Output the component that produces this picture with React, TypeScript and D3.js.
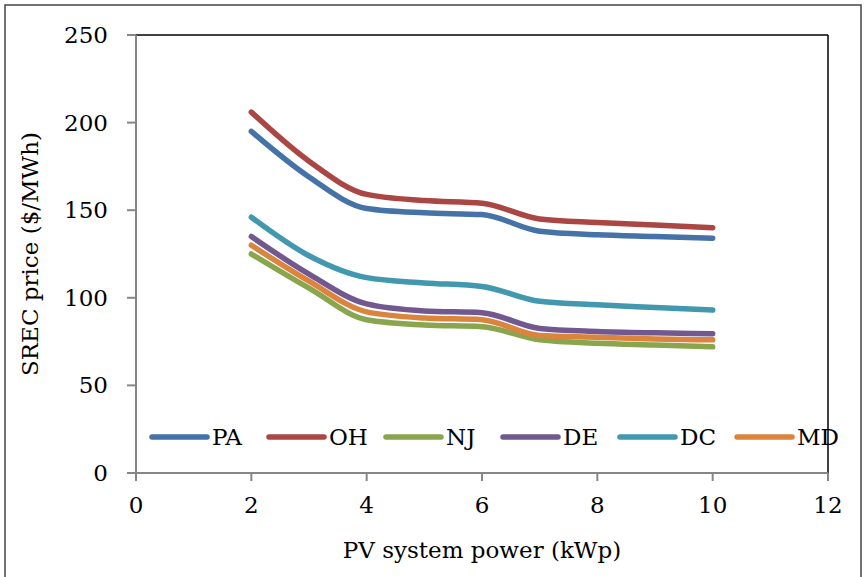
import { useEffect, useRef } from 'react';
import * as d3 from 'd3';

const xValues = [2, 3, 4, 5, 6, 7, 8, 9, 10];

const seriesNames = ['PA', 'OH', 'NJ', 'DE', 'DC', 'MD'];
const seriesColors = ['#4572A7', '#AA4643', '#89A54E', '#71588F', '#4198AF', '#DB843D'];

const paValues = [195, 169, 151, 148.5, 147.5, 138, 136, 135, 134];
const ohValues = [206, 178, 159, 155.5, 154, 145, 143, 141.5, 140];
const njValues = [125, 105.5, 87.5, 84.5, 83.5, 76, 74, 73, 72];
const deValues = [135, 113.5, 96.5, 92.5, 91.5, 82.5, 80.8, 80, 79.5];
const dcValues = [146, 124, 111.5, 108.5, 106.5, 98, 96, 94.5, 93];
const mdValues = [130, 109.5, 92, 88.5, 87.5, 78.5, 77.5, 76.5, 76];

const xTicks = [0, 2, 4, 6, 8, 10, 12];
const yTicks = [0, 50, 100, 150, 200, 250];

const FONT = '"DejaVu Serif", serif';

export default function App() {
  const ref = useRef<SVGSVGElement | null>(null);

  useEffect(() => {
    if (!ref.current) return;
    const svg = d3.select(ref.current);
    svg.selectAll('*').remove();

    const left = 136;
    const right = 828;
    const top = 35;
    const bottom = 473;

    const x = d3.scaleLinear().domain([0, 12]).range([left, right]);
    const y = d3.scaleLinear().domain([0, 250]).range([bottom, top]);

    // outer chart frame
    svg.append('rect')
      .attr('x', 5).attr('y', 5)
      .attr('width', 856).attr('height', 600)
      .attr('fill', 'white')
      .attr('stroke', '#444')
      .attr('stroke-width', 1.5);

    // plot area border (top / right are black)
    svg.append('line')
      .attr('x1', left).attr('x2', right).attr('y1', top).attr('y2', top)
      .attr('stroke', '#000').attr('stroke-width', 1.5);
    svg.append('line')
      .attr('x1', right).attr('x2', right).attr('y1', top).attr('y2', bottom)
      .attr('stroke', '#000').attr('stroke-width', 1.5);

    // axes
    const axisColor = '#868686';
    svg.append('line')
      .attr('x1', left).attr('x2', left).attr('y1', top).attr('y2', bottom + 8)
      .attr('stroke', axisColor).attr('stroke-width', 2);
    svg.append('line')
      .attr('x1', left - 9).attr('x2', right).attr('y1', bottom).attr('y2', bottom)
      .attr('stroke', axisColor).attr('stroke-width', 2);

    yTicks.forEach((t) => {
      svg.append('line')
        .attr('x1', left - 9).attr('x2', left)
        .attr('y1', y(t)).attr('y2', y(t))
        .attr('stroke', axisColor).attr('stroke-width', 2);
      svg.append('text')
        .attr('x', left - 28).attr('y', y(t))
        .attr('text-anchor', 'end')
        .attr('dominant-baseline', 'central')
        .attr('font-family', FONT).attr('font-size', 23)
        .text(t);
    });

    xTicks.forEach((t) => {
      svg.append('line')
        .attr('x1', x(t)).attr('x2', x(t))
        .attr('y1', bottom).attr('y2', bottom + 8)
        .attr('stroke', axisColor).attr('stroke-width', 2);
      svg.append('text')
        .attr('x', x(t)).attr('y', bottom + 40)
        .attr('text-anchor', 'middle')
        .attr('font-family', FONT).attr('font-size', 23)
        .text(t);
    });

    svg.append('text')
      .attr('x', (left + right) / 2).attr('y', 558)
      .attr('text-anchor', 'middle')
      .attr('font-family', FONT).attr('font-size', 23)
      .text('PV system power (kWp)');

    svg.append('text')
      .attr('transform', `translate(38,${(top + bottom) / 2}) rotate(-90)`)
      .attr('text-anchor', 'middle')
      .attr('font-family', FONT).attr('font-size', 23)
      .text('SREC price ($/MWh)');

    const allValues = [paValues, ohValues, njValues, deValues, dcValues, mdValues];
    const line = d3.line<number>()
      .x((_, i) => x(xValues[i]))
      .y((d) => y(d))
      .curve(d3.curveMonotoneX);

    // draw in series order so later series sit on top
    allValues.forEach((vals, i) => {
      svg.append('path')
        .attr('d', line(vals) as string)
        .attr('fill', 'none')
        .attr('stroke', seriesColors[i])
        .attr('stroke-width', 5.5)
        .attr('stroke-linecap', 'round')
        .attr('stroke-linejoin', 'round');
    });

    // legend
    const legendY = 437;
    const legendStart = 152;
    const legendStep = 117;
    seriesNames.forEach((name, i) => {
      const lx = legendStart + i * legendStep;
      svg.append('line')
        .attr('x1', lx).attr('x2', lx + 55)
        .attr('y1', legendY).attr('y2', legendY)
        .attr('stroke', seriesColors[i])
        .attr('stroke-width', 5.5)
        .attr('stroke-linecap', 'round');
      svg.append('text')
        .attr('x', lx + 60).attr('y', legendY)
        .attr('dominant-baseline', 'central')
        .attr('font-family', FONT).attr('font-size', 23)
        .text(name);
    });
  }, []);

  return (
    <svg
      ref={ref}
      width={865}
      height={577}
      viewBox="0 0 865 577"
      style={{ position: 'absolute', left: 0, top: 0, background: 'white' }}
    />
  );
}
